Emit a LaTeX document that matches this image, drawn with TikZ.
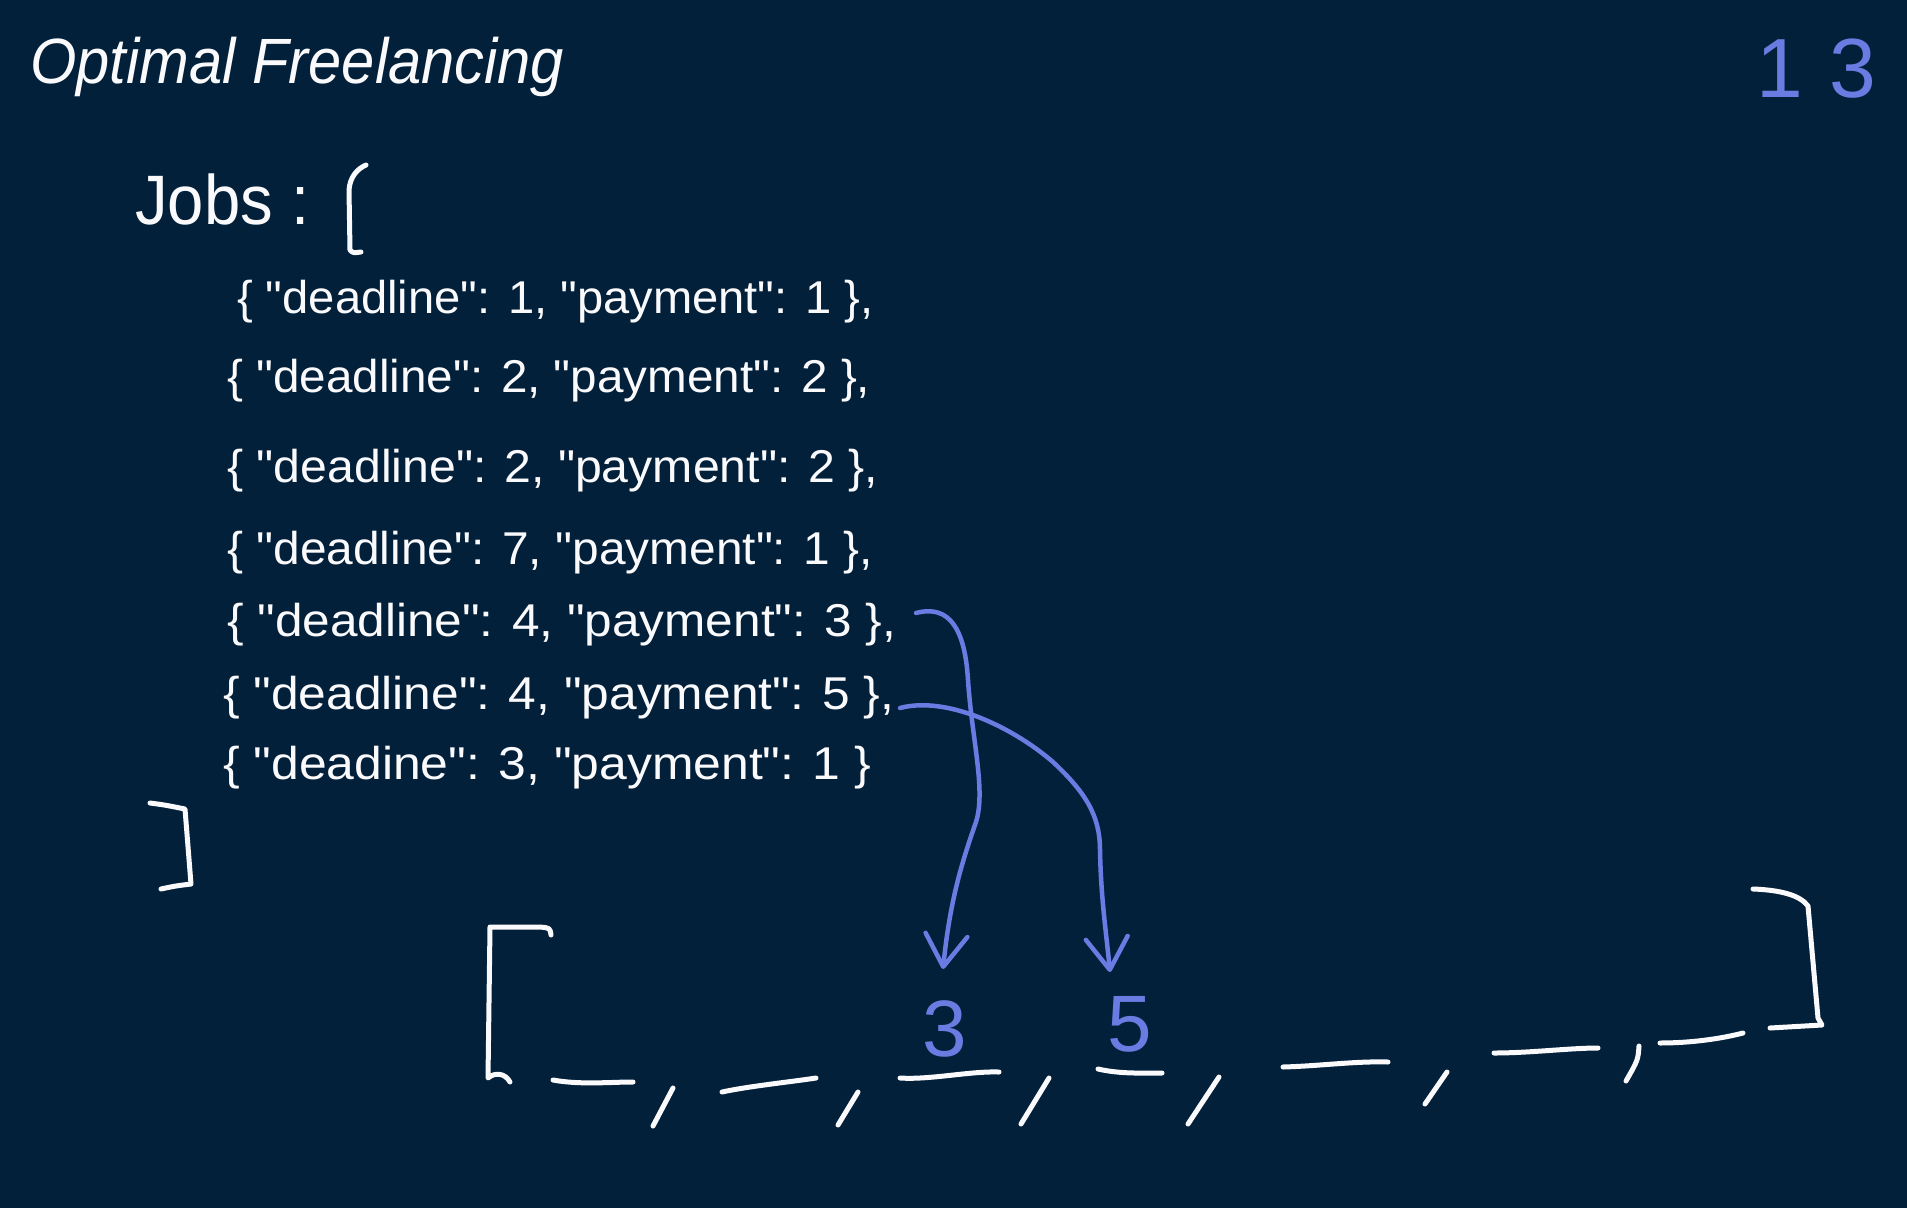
\documentclass[tikz,border=0pt]{standalone}
\usepackage{fontspec}
\setmainfont{Liberation Sans}
\usetikzlibrary{arrows.meta}
\definecolor{board}{RGB}{3,32,58}
\definecolor{chalk}{RGB}{250,250,252}
\definecolor{ink}{RGB}{106,124,226}
% straight double quote, as written in JSON
\newcommand{\jq}{\textquotedbl}
\begin{document}
\begin{tikzpicture}[x=1pt,y=-1pt,
  pen/.style={chalk, line width=5pt, line cap=round, line join=round},
  bluepen/.style={ink, line width=4.5pt, line cap=round, line join=round,
    -{Straight Barb[length=32pt,width=42pt,round]}},
  json/.style={font=\fontsize{46}{55}\selectfont, text=chalk, inner sep=0pt, anchor=base west},
  digit/.style={font=\fontsize{80}{90}\selectfont, text=ink, inner sep=0pt, anchor=base}]

% board
\fill[board] (0,0) rectangle (1907,1208);
\useasboundingbox (0,0) rectangle (1907,1208);

% heading and running total
\node[font=\fontsize{64}{70}\selectfont\itshape, text=chalk, inner sep=0pt, anchor=base west]
  (title) at (30,83) {\resizebox{534pt}{\height}{Optimal Freelancing}};
\node[font=\fontsize{84}{90}\selectfont, text=ink, inner sep=0pt, anchor=base east]
  (total) at (1876,97) {1\hspace{26pt}3};

% job list
\node[font=\fontsize{70}{80}\selectfont, text=chalk, inner sep=0pt, anchor=base west]
  (jobs) at (135,224) {\resizebox{174pt}{\height}{Jobs :}};
\draw[pen] (366,165) .. controls (357,169) and (350,177) .. (349,190) -- (350,250) .. controls (353,253) .. (361,252);

\node[json] (l1) at (237,313) {\resizebox{636pt}{\height}{\{ \jq deadline\jq: 1, \jq payment\jq: 1 \},}};
\node[json] (l2) at (227,392) {\resizebox{643pt}{\height}{\{ \jq deadline\jq: 2, \jq payment\jq: 2 \},}};
\node[json] (l3) at (227,482) {\resizebox{651pt}{\height}{\{ \jq deadline\jq: 2, \jq payment\jq: 2 \},}};
\node[json] (l4) at (227,564) {\resizebox{646pt}{\height}{\{ \jq deadline\jq: 7, \jq payment\jq: 1 \},}};
\node[json] (l5) at (227,636) {\resizebox{669pt}{\height}{\{ \jq deadline\jq: 4, \jq payment\jq: 3 \},}};
\node[json] (l6) at (223,709) {\resizebox{671pt}{\height}{\{ \jq deadline\jq: 4, \jq payment\jq: 5 \},}};
\node[json] (l7) at (223,779) {\resizebox{648pt}{\height}{\{ \jq deadine\jq: 3, \jq payment\jq: 1 \}}};

\draw[pen] (150,803) .. controls (165,805) .. (185,809) -- (191,884) .. controls (175,886) .. (161,889);

% schedule slots
\draw[pen] (551,935) .. controls (550,928) .. (540,927) -- (490,927) -- (488,1078) .. controls (495,1072) and (505,1073) .. (510,1082);
\draw[pen] (1753,889) .. controls (1780,890) and (1800,895) .. (1808,906) -- (1818,1018) -- (1822,1025) -- (1770,1028);

\draw[pen] (553,1080) .. controls (580,1085) and (610,1082) .. (633,1082);
\draw[pen] (673,1088) -- (653,1126);
\draw[pen] (722,1092) .. controls (750,1086) and (790,1082) .. (816,1078);
\draw[pen] (858,1092) -- (838,1125);
\draw[pen] (900,1078) .. controls (930,1080) and (970,1071) .. (999,1072);
\draw[pen] (1049,1078) -- (1021,1124);
\draw[pen] (1098,1069) .. controls (1120,1074) and (1140,1073) .. (1162,1073);
\draw[pen] (1219,1077) -- (1188,1124);
\draw[pen] (1283,1067) .. controls (1320,1066) and (1355,1061) .. (1388,1062);
\draw[pen] (1447,1072) -- (1425,1104);
\draw[pen] (1494,1053) .. controls (1530,1053) and (1570,1048) .. (1598,1048);
\draw[pen] (1639,1046) .. controls (1638,1060) .. (1626,1081);
\draw[pen] (1660,1043) .. controls (1690,1043) and (1720,1039) .. (1743,1033);

% chosen payments
\node[digit] (v3) at (945,1056) {3};
\node[digit] (v5) at (1130,1051) {5};

\coordinate (a1s) at (916,613);
\coordinate (a1e) at (943,969);
\coordinate (a2s) at (900,708);
\coordinate (a2e) at (1110,972);
\draw[bluepen] (a1s) .. controls (950,604) and (965,630) .. (968,680)
  .. controls (972,740) and (986,790) .. (976,822)
  .. controls (962,862) and (950,900) .. (a1e);
\draw[bluepen] (a2s) .. controls (945,696) and (1010,725) .. (1053,762)
  .. controls (1085,792) and (1100,815) .. (1100,850)
  .. controls (1101,900) and (1106,930) .. (a2e);
\end{tikzpicture}
\end{document}
